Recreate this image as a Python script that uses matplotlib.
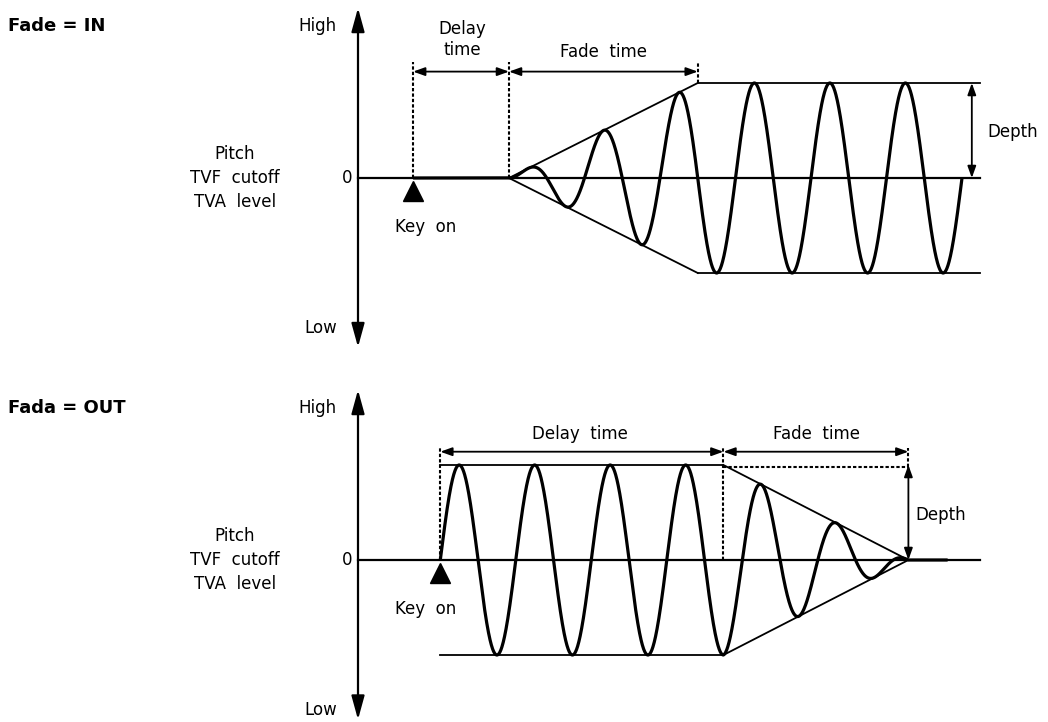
import matplotlib.pyplot as plt
import numpy as np

plt.rcParams['font.family'] = ['DejaVu Sans']

# time in LFO periods, level in units of Depth
top_keyon = 0.73
top_delay = 1.27
top_fade = 2.5
top_cycles = 6
bottom_keyon = 1.09
bottom_delay = 3.75
bottom_fade = 2.45
bottom_flat_end = 7.81
depth = 1.0
line_end = 8.24

axis_labels = ["High", "0", "Low"]
param_label = "Pitch\nTVF  cutoff\nTVA  level"
titles = ["Fade = IN", "Fada = OUT"]

fig = plt.figure(figsize=(10.48, 7.22), dpi=100)
ax1 = fig.add_axes([0, 0.5, 1, 0.5])
ax2 = fig.add_axes([0, 0, 1, 0.5])
xlim = (-358 / 75.5, 690 / 75.5)
ax1.set_xlim(xlim)
ax2.set_xlim(xlim)
ax1.set_ylim(-183 / 95, 178 / 95)
ax2.set_ylim(-162 / 95, 199 / 95)
for ax in (ax1, ax2):
    ax.axis('off')

FS = 12
thin = 1.3
thick = 2.3
dash = (0, (1.6, 1.0))


def harrow(ax, x0, x1, y):
    ax.annotate('', xy=(x1, y), xytext=(x0, y),
                arrowprops=dict(arrowstyle='<|-|>,head_length=0.5,head_width=0.18',
                                lw=1.3, color='k', shrinkA=0, shrinkB=0,
                                mutation_scale=14))


def common(ax, title, ytop, ybot, keyon):
    # level axis
    ax.annotate('', xy=(0, ytop), xytext=(0, ybot),
                arrowprops=dict(arrowstyle='<|-|>,head_length=0.8,head_width=0.22',
                                lw=1.6, color='k', shrinkA=0, shrinkB=0,
                                mutation_scale=18))
    ax.text(-4.64, 1.6, title, fontsize=13, fontweight='bold', ha='left', va='center')
    ax.text(-0.28, 1.6, axis_labels[0], fontsize=FS, ha='right', va='center')
    ax.text(-0.07, 0, axis_labels[1], fontsize=FS, ha='right', va='center')
    ax.text(-0.28, -1.58, axis_labels[2], fontsize=FS, ha='right', va='center')
    ax.text(-1.63, 0, param_label, fontsize=FS, ha='center', va='center', linespacing=1.45)
    ax.plot([0, line_end], [0, 0], color='k', lw=thin + 0.3)
    ax.plot([keyon], [-0.14], marker='^', markersize=15, color='k', linestyle='none')
    ax.text(0.9, -0.52, "Key  on", fontsize=FS, ha='center', va='center')


# ---- Fade = IN ----
common(ax1, titles[0], 1.79, -1.78, top_keyon)
start = top_keyon + top_delay
fade_end = start + top_fade
wave_end = start + top_cycles
t = np.linspace(top_keyon, wave_end, 2000)
env = np.clip((t - start) / top_fade, 0, 1) * depth
y = np.where(t < start, 0, np.sin(2 * np.pi * (t - start)) * env)
ax1.plot(t, y, color='k', lw=thick, solid_capstyle='butt')
ax1.plot([start, fade_end], [0, depth], color='k', lw=thin)
ax1.plot([start, fade_end], [0, -depth], color='k', lw=thin)
ax1.plot([fade_end, line_end], [depth, depth], color='k', lw=thin)
ax1.plot([fade_end, line_end], [-depth, -depth], color='k', lw=thin)
ax1.plot([top_keyon, top_keyon], [0, 1.22], color='k', lw=1.5, linestyle=dash)
ax1.plot([start, start], [0, 1.22], color='k', lw=1.5, linestyle=dash)
ax1.plot([fade_end, fade_end], [depth, 1.22], color='k', lw=1.5, linestyle=dash)
harrow(ax1, top_keyon, start, 1.12)
harrow(ax1, start, fade_end, 1.12)
ax1.text((top_keyon + start) / 2 + 0.02, 1.46, "Delay\ntime", fontsize=FS,
         ha='center', va='center', linespacing=1.25)
ax1.text((start + fade_end) / 2, 1.33, "Fade  time", fontsize=FS, ha='center', va='center')
ax1.annotate('', xy=(8.13, depth), xytext=(8.13, 0),
             arrowprops=dict(arrowstyle='<|-|>,head_length=0.5,head_width=0.18',
                             lw=1.3, color='k', shrinkA=0, shrinkB=0, mutation_scale=14))
ax1.text(8.34, 0.48, "Depth", fontsize=FS, ha='left', va='center')

# ---- Fade = OUT ----
common(ax2, titles[1], 1.79, -1.68, bottom_keyon)
fstart = bottom_keyon + bottom_delay
fend = fstart + bottom_fade
t = np.linspace(bottom_keyon, bottom_flat_end, 2000)
env = np.clip((fend - t) / bottom_fade, 0, 1) * depth
y = np.where(t > fend, 0, np.sin(2 * np.pi * (t - bottom_keyon)) * env)
ax2.plot(t, y, color='k', lw=thick, solid_capstyle='butt')
ax2.plot([bottom_keyon, fstart], [depth, depth], color='k', lw=thin)
ax2.plot([bottom_keyon, fstart], [-depth, -depth], color='k', lw=thin)
ax2.plot([fstart, fend], [depth, 0], color='k', lw=thin)
ax2.plot([fstart, fend], [-depth, 0], color='k', lw=thin)
ax2.plot([fstart, fend], [0.98, 0.98], color='k', lw=1.5, linestyle=dash)
ax2.plot([bottom_keyon, bottom_keyon], [0, 1.18], color='k', lw=1.5, linestyle=dash)
ax2.plot([fstart, fstart], [0, 1.18], color='k', lw=1.5, linestyle=dash)
ax2.plot([fend, fend], [0.98, 1.18], color='k', lw=1.5, linestyle=dash)
harrow(ax2, bottom_keyon, fstart, 1.14)
harrow(ax2, fstart, fend, 1.14)
ax2.text(2.94, 1.33, "Delay  time", fontsize=FS, ha='center', va='center')
ax2.text(6.07, 1.33, "Fade  time", fontsize=FS, ha='center', va='center')
ax2.annotate('', xy=(fend, depth), xytext=(fend, 0),
             arrowprops=dict(arrowstyle='<|-|>,head_length=0.5,head_width=0.18',
                             lw=1.3, color='k', shrinkA=0, shrinkB=0, mutation_scale=14))
ax2.text(7.38, 0.47, "Depth", fontsize=FS, ha='left', va='center')

fig.savefig("out.png", dpi=100, facecolor='white')
